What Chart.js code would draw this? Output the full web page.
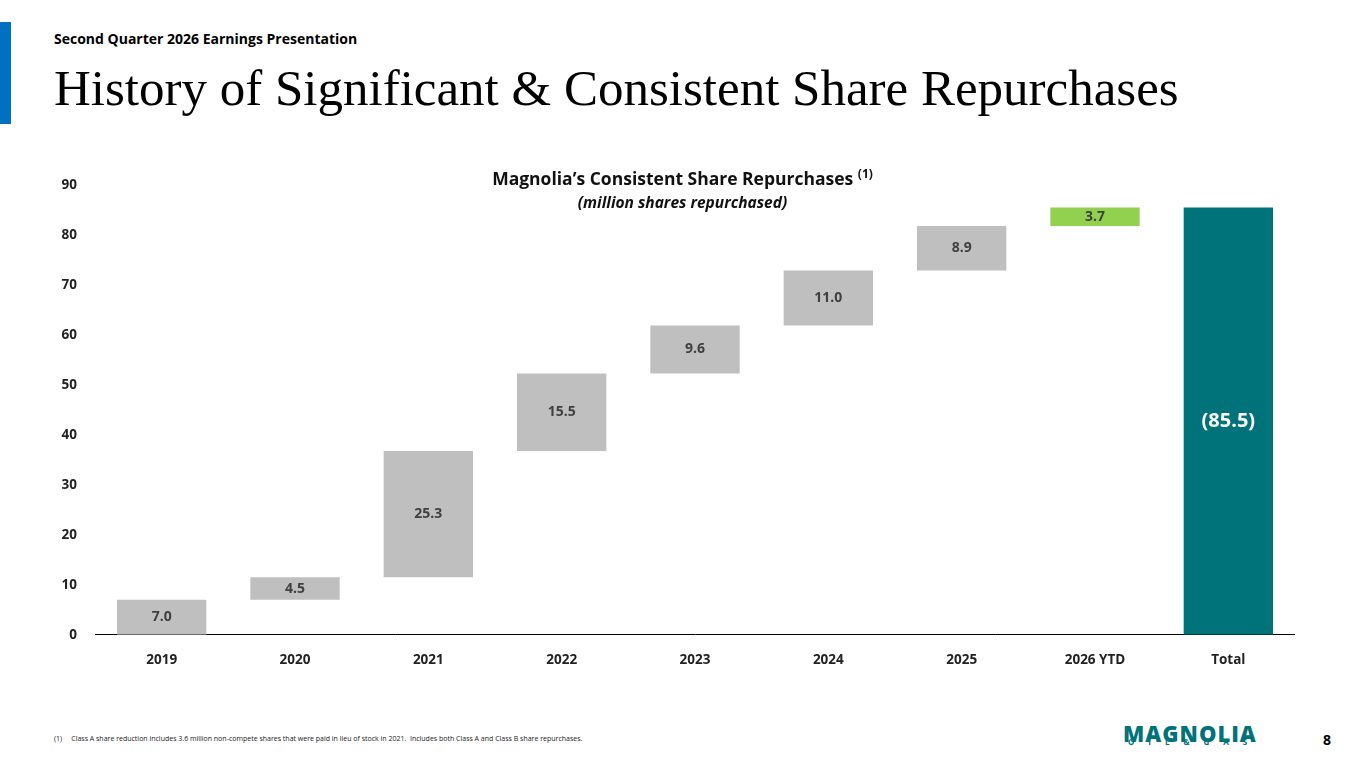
<!doctype html>
<html>
<head>
<script src="https://cdn.jsdelivr.net/npm/chart.js@4.4.0/dist/chart.umd.min.js"></script>
<style>
  body { margin:0; width:1365px; height:768px; background:#fff; position:relative; overflow:hidden; font-family:"Open Sans", sans-serif; }
  .bluebar { position:absolute; left:0; top:22px; width:11px; height:102px; background:#0070c0; }
  .sub { position:absolute; left:54px; top:29px; font-size:14px; font-weight:bold; color:#000; }
  .title { position:absolute; left:54px; top:59px; font-family:"Liberation Serif", serif; font-size:51px; color:#000; }
  .ctitle { position:absolute; left:0; width:1365px; text-align:center; top:165px; font-size:17.5px; font-weight:bold; color:#111; }
  .ctitle sup { font-size:12px; }
  .csub { position:absolute; left:0; width:1365px; text-align:center; top:191px; font-size:15.5px; font-weight:bold; font-style:italic; color:#111; }
  .foot { position:absolute; left:54px; top:734px; font-size:7px; color:#222; }
  .page { position:absolute; left:1323px; top:730px; font-size:14px; font-weight:bold; }
  .logo { position:absolute; left:1123px; top:718px; font-size:22px; font-weight:900; color:#00727a; letter-spacing:1px; }
  .logo2 { position:absolute; left:1128px; top:736px; font-size:8px; font-weight:bold; color:#00727a; letter-spacing:14px; }
  #wrap { position:absolute; left:40px; top:167px; width:1255px; height:518px; }
</style>
</head>
<body>
<div class="bluebar"></div>
<div class="sub">Second Quarter 2026 Earnings Presentation</div>
<div class="title">History of Significant &amp; Consistent Share Repurchases</div>
<div id="wrap"><canvas id="c"></canvas></div>
<div class="ctitle">Magnolia’s Consistent Share Repurchases <sup>(1)</sup></div>
<div class="csub">(million shares repurchased)</div>
<div class="foot">(1)&nbsp;&nbsp;&nbsp;&nbsp; Class A share reduction includes 3.6 million non-compete shares that were paid in lieu of stock in 2021.&nbsp; Includes both Class A and Class B share repurchases.</div>
<div class="logo">MAGNOLIA</div>
<div class="logo2">OIL&amp;GAS</div>
<div class="page">8</div>
<script>
var categories = ["2019", "2020", "2021", "2022", "2023", "2024", "2025", "2026 YTD", "Total"];
var increments = [7.0, 4.5, 25.3, 15.5, 9.6, 11.0, 8.9, 3.7];
var totalValue = 85.5;
var labels = ["7.0", "4.5", "25.3", "15.5", "9.6", "11.0", "8.9", "3.7", "(85.5)"];
var colors = ["#bfbfbf", "#bfbfbf", "#bfbfbf", "#bfbfbf", "#bfbfbf", "#bfbfbf", "#bfbfbf", "#92d050", "#00727a"];

var ranges = [];
var base = 0;
for (var i = 0; i < increments.length; i++) {
  ranges.push([base, base + increments[i]]);
  base += increments[i];
}
ranges.push([0, totalValue]);

var valuePlugin = {
  id: 'vals',
  afterDatasetsDraw: function(chart) {
    var ctx = chart.ctx;
    var meta = chart.getDatasetMeta(0);
    meta.data.forEach(function(bar, i) {
      var last = i == labels.length - 1;
      ctx.save();
      ctx.fillStyle = last ? "#fff" : "#404040";
      ctx.font = "bold " + (last ? 20 : 14) + "px 'Open Sans'";
      ctx.textAlign = "center";
      ctx.textBaseline = "middle";
      ctx.fillText(labels[i], bar.x, (bar.y + bar.base) / 2);
      ctx.restore();
    });
  }
};

new Chart(document.getElementById("c"), {
  type: 'bar',
  data: {
    labels: categories,
    datasets: [{ data: ranges, backgroundColor: colors, categoryPercentage: 1, barPercentage: 0.67 }]
  },
  options: {
    responsive: true,
    maintainAspectRatio: false,
    animation: false,
    layout: { padding: { top: 6, right: 0 } },
    plugins: { legend: { display: false }, tooltip: { enabled: false } },
    scales: {
      x: {
        grid: { display: false, drawTicks: false },
        border: { color: "#000", width: 1 },
        ticks: { color: "#222", font: { family: "Open Sans", size: 13.5, weight: "bold" }, padding: 17 }
      },
      y: {
        min: 0, max: 90,
        grid: { display: false },
        border: { display: false },
        afterFit: function(s) { s.width = 55; },
        ticks: { stepSize: 10, color: "#222", font: { family: "Open Sans", size: 13.5, weight: "bold" }, padding: 10 }
      }
    }
  },
  plugins: [valuePlugin]
});
</script>
</body>
</html>
